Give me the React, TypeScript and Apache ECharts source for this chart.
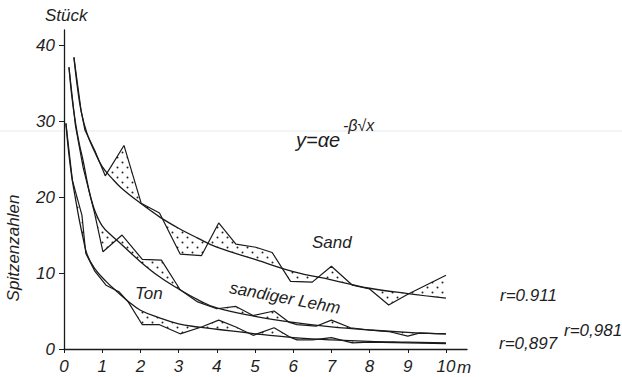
import React, { useEffect, useRef } from "react";
import * as echarts from "echarts";

// ---- data (x in m, y in Stück) ----
const xTicks = [0, 1, 2, 3, 4, 5, 6, 7, 8, 9, 10];
const yTicks = [0, 10, 20, 30, 40];

const sandObserved: number[][] = [
  [0.26, 38.4], [0.45, 31.3], [0.55, 28.8], [0.8, 26.2], [1.08, 22.8], [1.57, 26.8],
  [2.02, 19.2], [2.5, 17.9], [3.04, 12.5], [3.6, 12.3], [4.05, 16.6], [4.5, 13.8],
  [5.02, 13.4], [5.45, 12.7], [5.93, 8.9], [6.5, 8.8], [7.0, 10.9], [7.55, 8.4],
  [8.0, 7.9], [8.5, 5.8], [9.0, 7.2], [10.0, 9.7],
];
const sandFit: number[][] = [
  [0.26, 38.4], [0.35, 34.5], [0.45, 31.3], [0.6, 28.4], [0.8, 26.0], [1.0, 24.0],
  [1.25, 22.5], [1.5, 21.2], [2.0, 19.2], [2.5, 17.4], [3.0, 15.9], [3.5, 14.6],
  [4.0, 13.4], [5.0, 11.8], [6.0, 10.2], [7.0, 9.1], [8.0, 8.0], [9.0, 7.3], [10.0, 6.7],
];

const lehmObserved: number[][] = [
  [0.13, 37.1], [0.3, 29.4], [0.5, 23.9], [0.8, 17.9], [1.02, 12.8], [1.52, 15.0],
  [2.05, 11.8], [2.55, 11.7], [3.04, 7.8], [3.5, 6.2], [4.0, 5.3], [4.5, 5.6],
  [4.95, 4.4], [5.5, 5.0], [5.9, 3.5], [6.1, 3.2], [6.6, 3.0], [7.0, 3.8], [7.5, 2.8],
  [8.0, 2.5], [8.5, 2.3], [9.0, 1.7], [9.3, 2.1], [10.0, 2.0],
];
const lehmFit: number[][] = [
  [0.13, 37.1], [0.2, 33.5], [0.3, 29.8], [0.4, 27.0], [0.5, 24.8], [0.65, 21.0],
  [0.8, 18.3], [1.0, 16.2], [1.25, 14.9], [1.5, 13.8], [2.0, 11.5], [2.5, 9.5],
  [3.0, 7.9], [3.5, 6.5], [4.0, 5.4], [5.0, 4.3], [6.0, 3.5], [7.0, 2.9], [8.0, 2.5],
  [9.0, 2.2], [10.0, 2.0],
];

const tonObserved: number[][] = [
  [0.05, 29.7], [0.22, 22.2], [0.47, 17.6], [0.57, 12.6], [0.8, 10.3], [1.1, 8.4],
  [1.45, 7.5], [1.68, 6.2], [2.05, 3.2], [2.5, 3.2], [3.04, 2.0], [3.6, 2.9],
  [4.05, 3.8], [4.5, 2.9], [4.95, 1.8], [5.5, 2.8], [5.9, 1.6], [6.1, 1.2], [6.5, 1.2],
  [7.0, 1.5], [7.55, 0.8], [8.0, 0.9], [10.0, 0.7],
];
const tonFit: number[][] = [
  [0.05, 29.7], [0.12, 26.0], [0.2, 22.8], [0.3, 19.8], [0.4, 17.0], [0.5, 14.6],
  [0.6, 12.5], [0.8, 10.6], [1.1, 8.9], [1.4, 7.5], [1.7, 6.2], [2.0, 5.1], [2.5, 4.1],
  [3.0, 3.3], [3.5, 2.9], [4.0, 2.6], [5.0, 2.0], [6.0, 1.5], [7.0, 1.2], [8.0, 1.0],
  [9.0, 0.9], [10.0, 0.8],
];

const INK = "#1a1a1a";
const FONT = "'Liberation Sans', 'DejaVu Sans', sans-serif";

function makeDotPattern() {
  const c = document.createElement("canvas");
  c.width = 10;
  c.height = 10;
  const ctx = c.getContext("2d")!;
  ctx.fillStyle = "#222";
  ctx.beginPath();
  ctx.arc(2.5, 2.5, 1.0, 0, Math.PI * 2);
  ctx.fill();
  ctx.beginPath();
  ctx.arc(7.5, 7.5, 1.0, 0, Math.PI * 2);
  ctx.fill();
  return c;
}

function fillSeries(obs: number[][], fit: number[][], pattern: any) {
  return {
    type: "custom",
    coordinateSystem: "cartesian2d",
    silent: true,
    z: 1,
    clip: false,
    data: [[0, 0]],
    encode: { x: 0, y: 1 },
    renderItem: (_params: any, api: any) => {
      const pts = [
        ...obs.map((p) => api.coord(p)),
        ...fit.slice().reverse().map((p) => api.coord(p)),
      ];
      return {
        type: "polygon",
        shape: { points: pts },
        style: { fill: pattern, stroke: null },
      };
    },
  };
}

function lineSeries(data: number[][], smooth: boolean | number, width: number) {
  return {
    type: "line",
    data,
    smooth,
    showSymbol: false,
    symbol: "none",
    z: 3,
    silent: true,
    lineStyle: { color: INK, width },
  };
}

const txt = (text: string, x: number, y: number, size = 16, extra: any = {}) => ({
  type: "text",
  x,
  y,
  silent: true,
  ...extra,
  style: {
    text,
    fill: "#1e1e1e",
    font: `italic ${size}px ${FONT}`,
    textVerticalAlign: "middle",
    ...(extra.style || {}),
  },
});

export default function App() {
  const ref = useRef<HTMLDivElement>(null);
  useEffect(() => {
    if (!ref.current) return;
    const chart = echarts.init(ref.current, null, { renderer: "svg" });
    const pattern = { image: makeDotPattern(), repeat: "repeat" };
    const axisText = { color: "#1e1e1e", fontFamily: FONT, fontStyle: "italic", fontSize: 17 };
    chart.setOption({
      animation: false,
      backgroundColor: "#ffffff",
      grid: { left: 64, right: 155, top: 30, bottom: 28 },
      xAxis: {
        type: "value",
        min: 0,
        max: 10.55,
        interval: 1,
        axisLine: { lineStyle: { color: INK, width: 1.3 } },
        axisTick: { show: true, length: 4, customValues: xTicks, lineStyle: { color: INK } },
        axisLabel: {
          ...axisText,
          margin: 9,
          customValues: xTicks,
          formatter: (v: number) => String(v),
        },
        splitLine: { show: false },
      },
      yAxis: {
        type: "value",
        min: 0,
        max: 42,
        interval: 10,
        axisLine: { show: true, lineStyle: { color: INK, width: 1.3 } },
        axisTick: { show: true, length: 5, customValues: yTicks, lineStyle: { color: INK } },
        axisLabel: { ...axisText, margin: 9, customValues: yTicks },
        splitLine: { show: false },
      },
      graphic: [
        {
          type: "line",
          silent: true,
          z: -10,
          shape: { x1: 0, y1: 131, x2: 622, y2: 131 },
          style: { stroke: "#e8e8e8", lineWidth: 1 },
        },
        txt("Stück", 45, 15, 17),
        txt("Spitzenzahlen", 13, 248, 17, { rotation: Math.PI / 2, style: { textAlign: "center" } }),
        txt("m", 457, 367, 17),
        txt("y=αe", 296, 140, 20),
        txt("-β√x", 343, 125, 16),
        txt("Sand", 312, 242, 17),
        txt("Ton", 135, 293, 17),
        txt("r=0.911", 500, 295, 17),
        txt("r=0,897", 499, 343, 17),
        txt("r=0,981", 564, 330, 17),
        txt("sandiger Lehm", 285, 298, 17, { rotation: -0.185, style: { textAlign: "center" } }),
      ],
      series: [
        fillSeries(sandObserved, sandFit, pattern),
        fillSeries(lehmObserved, lehmFit, pattern),
        fillSeries(tonObserved, tonFit, pattern),
        lineSeries(sandFit, 0.4, 1.3),
        lineSeries(lehmFit, 0.4, 1.3),
        lineSeries(tonFit, 0.4, 1.3),
        lineSeries(sandObserved, false, 1.2),
        lineSeries(lehmObserved, false, 1.2),
        lineSeries(tonObserved, false, 1.2),
      ],
    });
    return () => chart.dispose();
  }, []);
  return (
    <div
      ref={ref}
      style={{ position: "fixed", left: 0, top: 0, width: 622, height: 377, background: "#fff" }}
    />
  );
}
